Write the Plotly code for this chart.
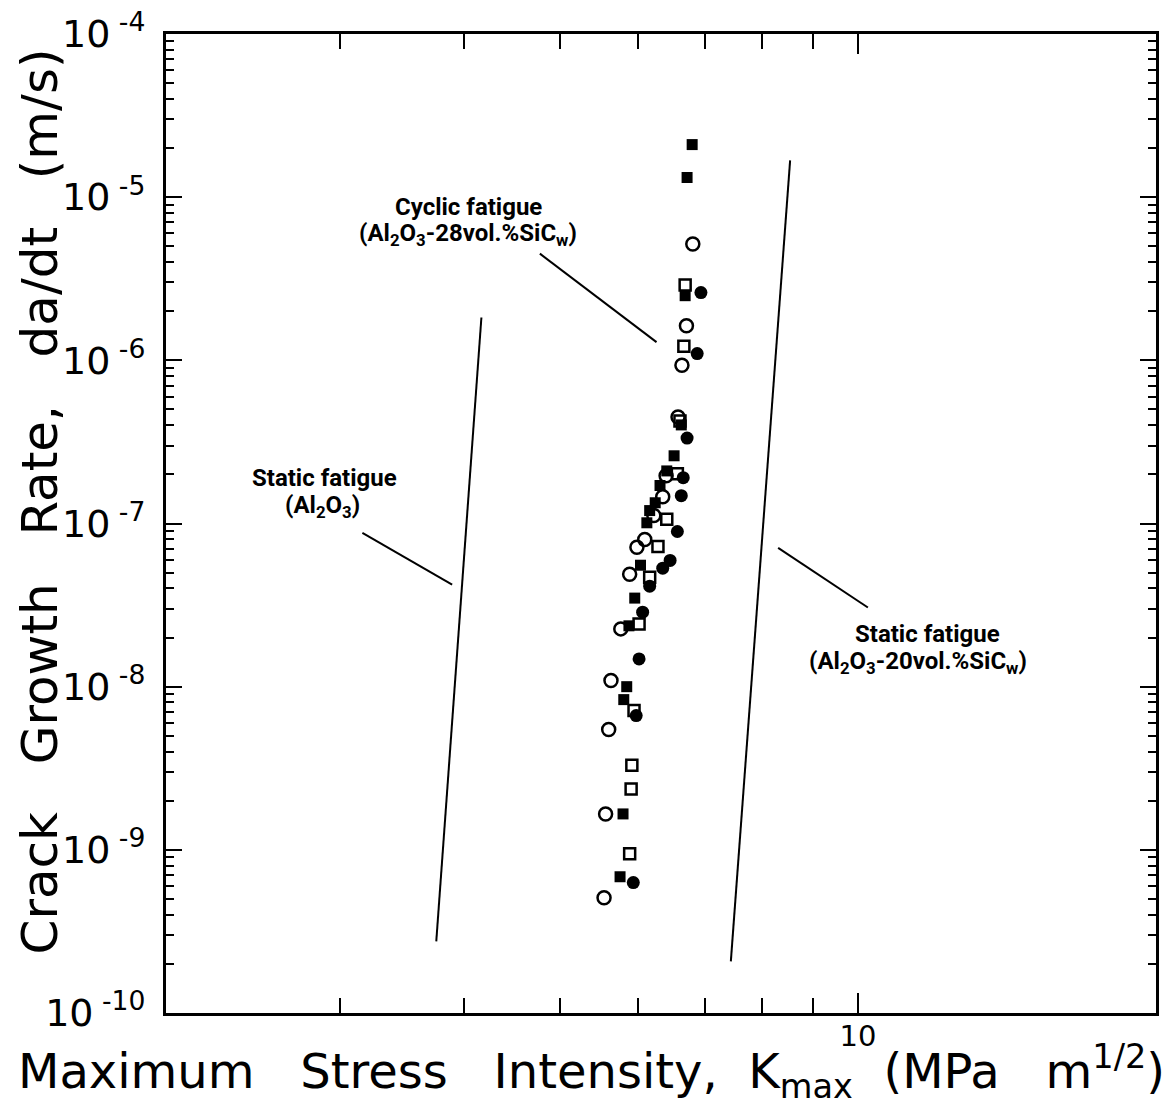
import plotly.graph_objects as go

# ---- data (K in MPa m^1/2, rate in m/s) ----
fsq_k = [6.80, 6.72, 6.69, 6.63, 6.52, 6.41, 6.31, 6.24, 6.16, 6.12, 6.03, 5.95, 5.87, 5.84, 5.80, 5.79, 5.75]
fsq_v = [2.10e-5, 1.32e-5, 2.49e-6, 4.02e-7, 2.60e-7, 2.10e-7, 1.71e-7, 1.34e-7, 1.20e-7, 1.01e-7,
         5.55e-8, 3.49e-8, 2.36e-8, 1.00e-8, 8.33e-9, 1.66e-9, 6.84e-10]

ocir_k = [6.81, 6.71, 6.64, 6.58, 6.40, 6.35, 6.22, 6.09, 5.98, 5.88, 5.76, 5.63, 5.60, 5.56, 5.54]
ocir_v = [5.16e-6, 1.63e-6, 9.33e-7, 4.49e-7, 1.96e-7, 1.46e-7, 1.12e-7, 7.98e-8, 7.15e-8, 4.89e-8,
          2.26e-8, 1.09e-8, 5.47e-9, 1.66e-9, 5.09e-10]

osq_k = [6.69, 6.67, 6.61, 6.57, 6.41, 6.28, 6.16, 6.01, 5.94, 5.91, 5.90, 5.88]
osq_v = [2.90e-6, 1.22e-6, 4.25e-7, 2.02e-7, 1.06e-7, 7.24e-8, 4.69e-8, 2.42e-8, 7.15e-9, 3.30e-9,
         2.36e-9, 9.46e-10]

fcir_k = [6.94, 6.88, 6.72, 6.66, 6.63, 6.57, 6.46, 6.35, 6.16, 6.06, 6.01, 5.97, 5.93]
fcir_v = [2.60e-6, 1.10e-6, 3.34e-7, 1.91e-7, 1.48e-7, 8.93e-8, 5.94e-8, 5.32e-8, 4.13e-8, 2.86e-8,
          1.48e-8, 6.65e-9, 6.30e-10]

# static fatigue trend lines
al2o3_k = [3.75, 4.165]
al2o3_v = [2.75e-10, 1.83e-6]
sic20_k = [7.44, 8.54]
sic20_v = [2.07e-10, 1.68e-5]

y_tickvals = [1e-10, 1e-9, 1e-8, 1e-7, 1e-6, 1e-5, 1e-4]
y_ticktext = ["10<sup> -10</sup>", "10<sup> -9</sup>", "10<sup> -8</sup>", "10<sup> -7</sup>",
              "10<sup> -6</sup>", "10<sup> -5</sup>", "10<sup> -4</sup>"]
x_tickvals = [10]
x_ticktext = ["10"]
x_minor = [3, 4, 5, 6, 7, 8, 9]
y_minor = [m * 10.0 ** e for e in range(-10, -4) for m in range(2, 10)]

fig = go.Figure()

line_style = dict(color="black", width=2)
fig.add_trace(go.Scatter(x=al2o3_k, y=al2o3_v, mode="lines", line=line_style, showlegend=False))
fig.add_trace(go.Scatter(x=sic20_k, y=sic20_v, mode="lines", line=line_style, showlegend=False))

fig.add_trace(go.Scatter(x=ocir_k, y=ocir_v, mode="markers", showlegend=False,
                         marker=dict(symbol="circle-open", size=13, color="black", line=dict(width=2.5))))
fig.add_trace(go.Scatter(x=osq_k, y=osq_v, mode="markers", showlegend=False,
                         marker=dict(symbol="square-open", size=11, color="black", line=dict(width=2.5))))
fig.add_trace(go.Scatter(x=fsq_k, y=fsq_v, mode="markers", showlegend=False,
                         marker=dict(symbol="square", size=11, color="black")))
fig.add_trace(go.Scatter(x=fcir_k, y=fcir_v, mode="markers", showlegend=False,
                         marker=dict(symbol="circle", size=13, color="black")))

tickfont = dict(family="DejaVu Sans", size=38, color="black")

fig.update_xaxes(type="log", range=[0.30103, 1.30103], showgrid=False, zeroline=False,
                 showline=True, linecolor="black", linewidth=3, mirror="ticks",
                 ticks="inside", ticklen=20, tickwidth=2, tickcolor="black",
                 tickvals=x_tickvals, ticktext=x_ticktext,
                 tickfont=dict(family="DejaVu Sans", size=29, color="black"),
                 ticklabelstandoff=-5,
                 minor=dict(ticks="inside", ticklen=15, tickwidth=2, tickcolor="black",
                            tickvals=x_minor, showgrid=False))
fig.update_yaxes(type="log", range=[-10, -4], showgrid=False, zeroline=False,
                 showline=True, linecolor="black", linewidth=3, mirror="ticks",
                 ticks="inside", ticklen=16, tickwidth=2, tickcolor="black",
                 tickvals=y_tickvals, ticktext=y_ticktext, tickfont=tickfont,
                 ticklabelstandoff=10,
                 minor=dict(ticks="inside", ticklen=8, tickwidth=1.5, tickcolor="black",
                            tickvals=y_minor, showgrid=False))

W, H = 1165, 1107
L, R, T, B = 166, 6, 28, 94
pw, ph = W - L - R, H - T - B


def px(x):
    return (x - L) / pw


def py(y):
    return (H - B - y) / ph


label_font = dict(family="Liberation Sans Narrow, Arial Narrow, Roboto, sans-serif", size=24,
                  color="black", weight="bold")

annos = [
    dict(x=px(469), y=py(202), text="Cyclic fatigue"),
    dict(x=px(469), y=py(230), text="(Al<sub>2</sub>O<sub>3</sub>-28vol.%SiC<sub>w</sub>)"),
    dict(x=px(325), y=py(475), text="Static fatigue"),
    dict(x=px(323), y=py(503), text="(Al<sub>2</sub>O<sub>3</sub>)"),
    dict(x=px(930), y=py(632), text="Static fatigue"),
    dict(x=px(920), y=py(660), text="(Al<sub>2</sub>O<sub>3</sub>-20vol.%SiC<sub>w</sub>)"),
]
for a in annos:
    fig.add_annotation(xref="paper", yref="paper", showarrow=False, font=label_font,
                       xanchor="center", yanchor="middle", **a)

for (x0, y0, x1, y1) in [(541, 249, 658, 338), (363, 530, 453, 582), (780, 545, 870, 605)]:
    fig.add_shape(type="line", xref="paper", yref="paper", x0=px(x0), y0=py(y0), x1=px(x1), y1=py(y1),
                  line=dict(color="black", width=2))

fig.add_annotation(xref="paper", yref="paper", x=px(593), y=py(1072), showarrow=False,
                   xanchor="center", yanchor="middle",
                   font=dict(family="DejaVu Sans", size=48, color="black"),
                   text="Maximum\u00a0\u00a0 Stress\u00a0\u00a0 Intensity,\u00a0 K<sub>max</sub>\u00a0 (MPa\u00a0\u00a0 m<sup>1/2</sup>)")
fig.add_annotation(xref="paper", yref="paper", x=px(40), y=py(498), showarrow=False,
                   xanchor="center", yanchor="middle", textangle=-90,
                   font=dict(family="DejaVu Sans", size=50, color="black"),
                   text="Crack\u00a0\u00a0 Growth\u00a0\u00a0 Rate,\u00a0\u00a0 da/dt\u00a0\u00a0 (m/s)")

fig.update_layout(width=W, height=H, margin=dict(l=L, r=R, t=T, b=B),
                  paper_bgcolor="white", plot_bgcolor="white", showlegend=False)

fig.write_html("out.html")
